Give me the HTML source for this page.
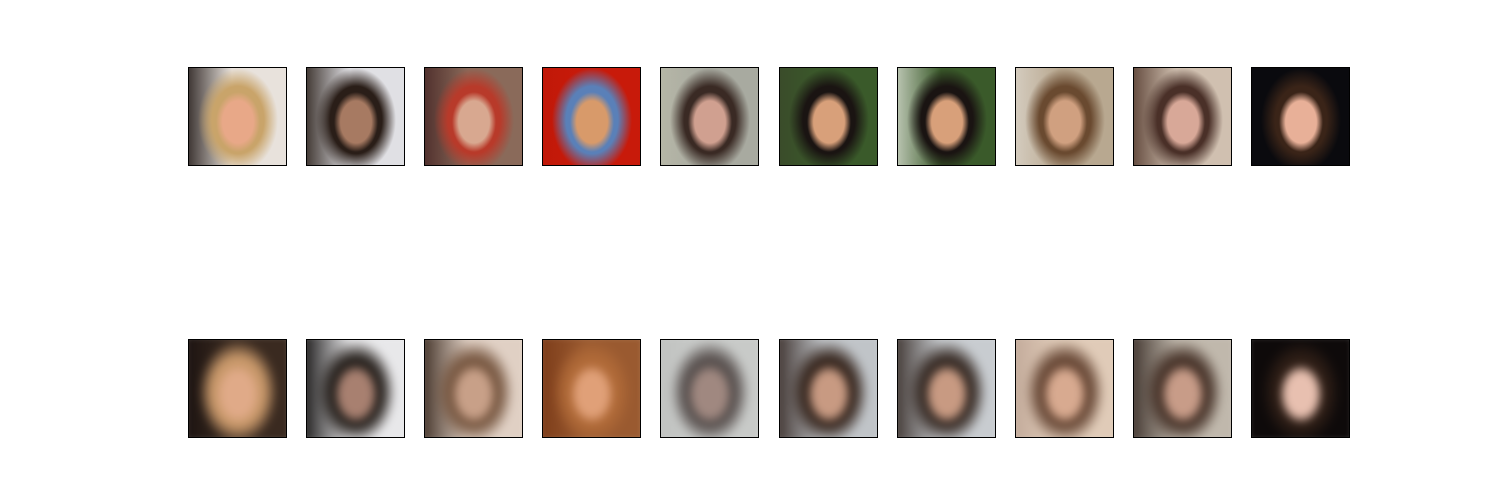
<!DOCTYPE html>
<html><head><meta charset="utf-8"><style>
body{margin:0;width:1500px;height:500px;background:#fff;position:relative;overflow:hidden;font-family:"Liberation Sans",sans-serif}
.img{position:absolute;width:97px;height:97px;border:1px solid #000;overflow:hidden}
.blur>div{filter:blur(4px)}
.l{position:absolute;left:-6px;top:-6px;width:109px;height:109px}
</style></head><body>
<div id="fig"></div>
<script>
const xs=[188,306,424,542,660,779,897,1015,1133,1251];
// [background, hair, skin, left-side-bg]
const top_=[
["#e8e2dc","#c9a46a","#e8a888","#2a2220"],
["#e0e0e4","#2a1e18","#a77a62","#302620"],
["#8a6a5a","#b83a2a","#d8a890","#4a2a28"],
["#c81a0a","#5a80b8","#d89a6a","#c01808"],
["#a8aaa0","#3a2a24","#d0a090","#b8b8a8"],
["#3a5a2a","#1a1412","#d8a07a","#3a4a2a"],
["#3a5a2a","#1a1412","#d8a07a","#c8d0c0"],
["#b8a890","#6a4a30","#d0a080","#d8d0c4"],
["#d0c0b0","#4a3028","#d8a898","#5a4034"],
["#0a0a0e","#3a2418","#e8b098","#0a0a0e"]];
const bot=[
["#3a2a20","#c8986a","#e0aa88","#1a1210"],
["#e8e8ea","#2a2420","#a88070","#141212"],
["#e0d0c4","#7a5a44","#c8a088","#3a2a20"],
["#9a5a30","#b06a38","#e0a078","#7a3a18"],
["#c8cac8","#5a5250","#a08880","#c0c2c0"],
["#c0c4c8","#3a2a22","#c89a82","#3a2e2a"],
["#c8ccd0","#3a2e28","#c89a82","#3a302c"],
["#e0cbb8","#6a4a38","#d8aa90","#c0a898"],
["#c0b8ac","#4a362c","#c89c88","#3a2e28"],
["#0e0a0a","#2e1e16","#e8c0b0","#0e0a0a"]];
const fig=document.getElementById('fig');
function make(row,y,blur,i){
  const c=row[i];
  const d=document.createElement('div');
  d.className='img'+(blur?' blur':'');
  d.style.left=xs[i]+'px';d.style.top=y+'px';
  const l=document.createElement('div');
  l.className='l';
  l.style.background=
   `radial-gradient(ellipse 22px 30px at 55px 60px, ${c[2]} 0%, ${c[2]} 70%, transparent 100%),`+
   `radial-gradient(ellipse 40px 52px at 55px 58px, ${c[1]} 0%, ${c[1]} 65%, transparent 100%),`+
   `linear-gradient(90deg, ${c[3]} 0%, ${c[0]} 45%, ${c[0]} 100%)`;
  d.appendChild(l);
  
  
  fig.appendChild(d);
}
for(let i=0;i<10;i++){make(top_,67,false,i);make(bot,339,true,i);}
</script>
</body></html>
